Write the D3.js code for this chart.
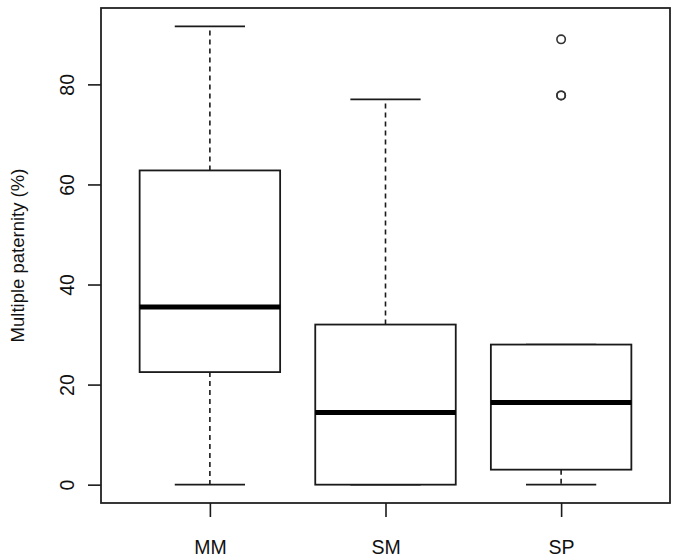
<!DOCTYPE html>
<html>
<head>
<meta charset="utf-8">
<script src="https://cdn.jsdelivr.net/npm/d3@7"></script>
<style>
body { margin: 0; background: #fff; }
text { font-family: "Liberation Sans", Arial, sans-serif; fill: #111; }
</style>
</head>
<body>
<svg id="chart" width="681" height="560"></svg>
<script>
// box stats
var groups = ["MM", "SM", "SP"];
var lowerWhisker = [0, 0, 0];
var q1 = [22.5, 0, 3];
var median = [35.5, 14.4, 16.4];
var q3 = [62.8, 32, 28];
var upperWhisker = [91.6, 77, 28];
var outliers = [[], [], [89, 77.8, 77.8]];
var yTicks = [0, 20, 40, 60, 80];

var svg = d3.select("#chart");
var plotLeft = 101, plotRight = 670, plotTop = 8, plotBottom = 503;

var boxes = groups.map(function(g, i){
	return {name: g, pos: i + 1, lo: lowerWhisker[i], q1: q1[i], med: median[i], q3: q3[i], hi: upperWhisker[i], out: outliers[i]};
});

// R style 4% padding on both axes
var yMax = d3.max(boxes, d => d3.max([d.hi].concat(d.out)));
var yPad = yMax * 0.04;
var y = d3.scaleLinear().domain([0 - yPad, yMax + yPad]).range([plotBottom, plotTop]);
var x = d3.scaleLinear().domain([0.5 - 0.12, 3.5 + 0.12]).range([plotLeft, plotRight]);
var boxW = x(1.4) - x(1);

var ink = "#1a1a1a";

var g = svg.selectAll("g.box")
	.data(boxes)
	.enter()
	.append("g")
	.attr("class", "box");

// whiskers
g.append("line")
	.attr("x1", d => x(d.pos)).attr("x2", d => x(d.pos))
	.attr("y1", d => y(d.q3)).attr("y2", d => y(d.hi))
	.attr("stroke", ink).attr("stroke-width", 1.6)
	.attr("stroke-dasharray", "5,4");
g.append("line")
	.attr("x1", d => x(d.pos)).attr("x2", d => x(d.pos))
	.attr("y1", d => y(d.q1)).attr("y2", d => y(d.lo))
	.attr("stroke", ink).attr("stroke-width", 1.6)
	.attr("stroke-dasharray", "5,4");

// caps
g.append("line")
	.attr("x1", d => x(d.pos) - boxW / 2).attr("x2", d => x(d.pos) + boxW / 2)
	.attr("y1", d => y(d.hi)).attr("y2", d => y(d.hi))
	.attr("stroke", ink).attr("stroke-width", 1.8);
g.append("line")
	.attr("x1", d => x(d.pos) - boxW / 2).attr("x2", d => x(d.pos) + boxW / 2)
	.attr("y1", d => y(d.lo)).attr("y2", d => y(d.lo))
	.attr("stroke", ink).attr("stroke-width", 1.8);

// box
g.append("rect")
	.attr("x", d => x(d.pos) - boxW)
	.attr("width", boxW * 2)
	.attr("y", d => y(d.q3))
	.attr("height", d => y(d.q1) - y(d.q3))
	.attr("fill", "#fff")
	.attr("stroke", ink).attr("stroke-width", 1.8);

// median
g.append("line")
	.attr("x1", d => x(d.pos) - boxW).attr("x2", d => x(d.pos) + boxW)
	.attr("y1", d => y(d.med)).attr("y2", d => y(d.med))
	.attr("stroke", "#000").attr("stroke-width", 5);

// outliers
g.selectAll("circle")
	.data(d => d.out.map(v => ({pos: d.pos, v: v})))
	.enter()
	.append("circle")
	.attr("cx", d => x(d.pos))
	.attr("cy", d => y(d.v))
	.attr("r", 4.2)
	.attr("fill", "none")
	.attr("stroke", "#333").attr("stroke-width", 1.6);

// frame
svg.append("rect")
	.attr("x", plotLeft).attr("y", plotTop)
	.attr("width", plotRight - plotLeft).attr("height", plotBottom - plotTop)
	.attr("fill", "none")
	.attr("stroke", "#222").attr("stroke-width", 1.8);

// y axis
var yAxis = svg.append("g")
	.attr("transform", "translate(" + plotLeft + ",0)")
	.call(d3.axisLeft(y).tickValues(yTicks).tickSize(13).tickPadding(0));
yAxis.select(".domain").remove();
yAxis.selectAll(".tick line").attr("stroke", ink).attr("stroke-width", 1.6);
yAxis.selectAll(".tick text")
	.attr("x", null).attr("dy", null)
	.attr("text-anchor", "middle")
	.attr("transform", "translate(-27,0) rotate(-90)")
	.style("font-size", "19.5px")
	.style("font-family", "'Liberation Sans', Arial, sans-serif")
	.attr("fill", "#111");

// x axis
var xAxis = svg.append("g")
	.attr("transform", "translate(0," + plotBottom + ")")
	.call(d3.axisBottom(x).tickValues([1, 2, 3]).tickSize(14).tickPadding(23)
		.tickFormat((d, i) => groups[i]));
xAxis.select(".domain").remove();
xAxis.selectAll(".tick line").attr("stroke", ink).attr("stroke-width", 1.6);
xAxis.selectAll(".tick text")
	.style("font-size", "19.5px")
	.style("font-family", "'Liberation Sans', Arial, sans-serif")
	.attr("fill", "#111");

// y title
svg.append("text")
	.attr("transform", "translate(24," + ((plotTop + plotBottom) / 2) + ") rotate(-90)")
	.attr("text-anchor", "middle")
	.style("font-size", "18.5px")
	.text("Multiple paternity (%)");
</script>
</body>
</html>
